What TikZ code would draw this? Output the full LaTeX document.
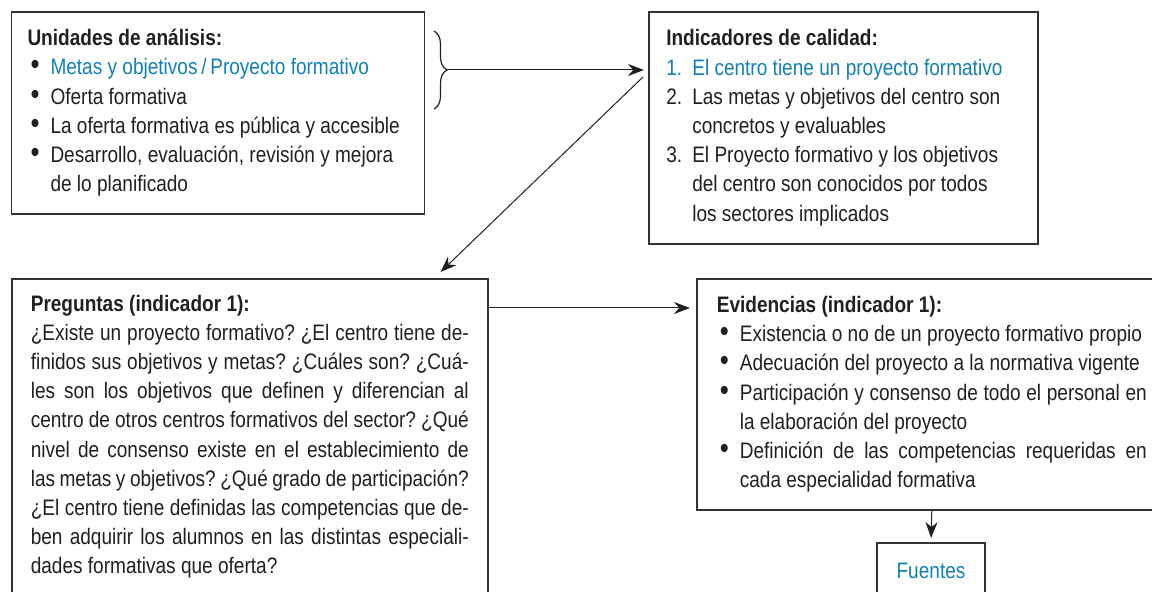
\documentclass[tikz,border=0pt]{standalone}
\usepackage{fontspec}
\usepackage{graphicx}
\setmainfont{Liberation Sans}[FakeStretch=0.85]
\usetikzlibrary{arrows.meta,decorations.pathreplacing}

\definecolor{azulF}{RGB}{18,128,178}
\definecolor{tinta}{RGB}{35,31,32}
\definecolor{borde}{RGB}{51,51,51}

\tikzstyle{boxMain} = [draw = borde, line width = 0.8pt,
                       anchor = north west, align = flush left,
                       inner ysep = 0pt, text = tinta,
                       font = \fontsize{11.2}{14.6}\selectfont\frenchspacing
                       ]
\tikzstyle{arr} = [-{Stealth[length = 8pt, width = 6pt]},
                   line width = 0.5pt, draw = tinta
                   ]

\newcommand{\bul}{\par\hangindent=11.5pt\hangafter=1\noindent\makebox[11.5pt][l]{\hspace{1.5pt}\scalebox{1.35}{\textbullet}}}
\newcommand{\numit}[1]{\par\hangindent=13pt\hangafter=1\noindent\makebox[13pt][l]{#1}}

\begin{document}
\begin{tikzpicture}[x = 0.5pt, y = -0.5pt]

    \useasboundingbox (0, 0) rectangle (1152, 592);
    \clip (0, 0) rectangle (1152, 592);

    %%% Top row
    % Unidades de analisis %
    \node (unid) at (10.7, 11) [boxMain, text width = 190.5pt, inner xsep = 8pt, minimum height = 101pt]{%
        \textbf{Unidades de análisis:}
        \bul\textcolor{azulF}{Metas y objetivos\,/\,Proyecto formativo}
        \bul Oferta formativa
        \bul La oferta formativa es pública y accesible
        \bul Desarrollo, evaluación, revisión y mejora\newline de lo planificado\par};

    % Indicadores %
    \node (ind) at (648, 11) [boxMain, text width = 177pt, inner xsep = 8.75pt, minimum height = 116pt]{%
        \textbf{Indicadores de calidad:}
        \numit{\textcolor{azulF}{1.}}\textcolor{azulF}{El centro tiene un proyecto formativo}
        \numit{2.}Las metas y objetivos del centro son\newline concretos y evaluables
        \numit{3.}El Proyecto formativo y los objetivos\newline del centro son conocidos por todos\newline los sectores implicados\par};

        % Brace
        \coordinate (bt) at (434, 31);
        \coordinate (bb) at (434, 109);
        \coordinate (btip) at (447, 70);
        \draw[decorate, decoration = {brace, amplitude = 6.5pt}, line width = 0.6pt, draw = tinta] (bt) -- (bb);

    %%% Bottom row
    % Preguntas %
    \node (preg) at (11, 278) [boxMain, text width = 219pt, inner xsep = 9.5pt, inner ysep = 8pt, align = justify]{%
        \textbf{Preguntas (indicador 1):}\par
        ¿Existe un proyecto formativo? ¿El centro tiene de-\linebreak
        finidos sus objetivos y metas? ¿Cuáles son? ¿Cuá-\linebreak
        les son los objetivos que definen y diferencian al\linebreak
        centro de otros centros formativos del sector? ¿Qué\linebreak
        nivel de consenso existe en el establecimiento de\linebreak
        las metas y objetivos? ¿Qué grado de participación?\linebreak
        ¿El centro tiene definidas las competencias que de-\linebreak
        ben adquirir los alumnos en las distintas especiali-\linebreak
        dades formativas que oferta?};

    % Evidencias %
    \node (evid) at (696, 278) [boxMain, text width = 215pt, inner xsep = 10pt, minimum height = 115.5pt, align = justify]{%
        \textbf{Evidencias (indicador 1):}
        \bul Existencia o no de un proyecto formativo propio
        \bul Adecuación del proyecto a la normativa vigente
        \bul Participación y consenso de todo el personal en\linebreak la elaboración del proyecto
        \bul Definición de las competencias requeridas en\linebreak cada especialidad formativa\par};

    % Fuentes %
    \node (fuen) at (931, 542) [boxMain, anchor = north, align = center, minimum width = 54pt, minimum height = 28pt, text = azulF]{Fuentes};

    %%% Arrows
    \draw[arr, shorten > = 2pt] (btip) -- (btip -| ind.west);
    \draw[arr] ([shift = {(-5, 66)}]ind.north west) -- ([shift = {(-48, -6)}]preg.north east);
    \draw[arr, shorten > = 3pt] ([shift = {(0, 30)}]preg.north east) -- ([shift = {(0, 30)}]evid.north west);
    \draw[arr, shorten > = 2pt] (evid.south) -- (fuen.north);

\end{tikzpicture}
\end{document}
